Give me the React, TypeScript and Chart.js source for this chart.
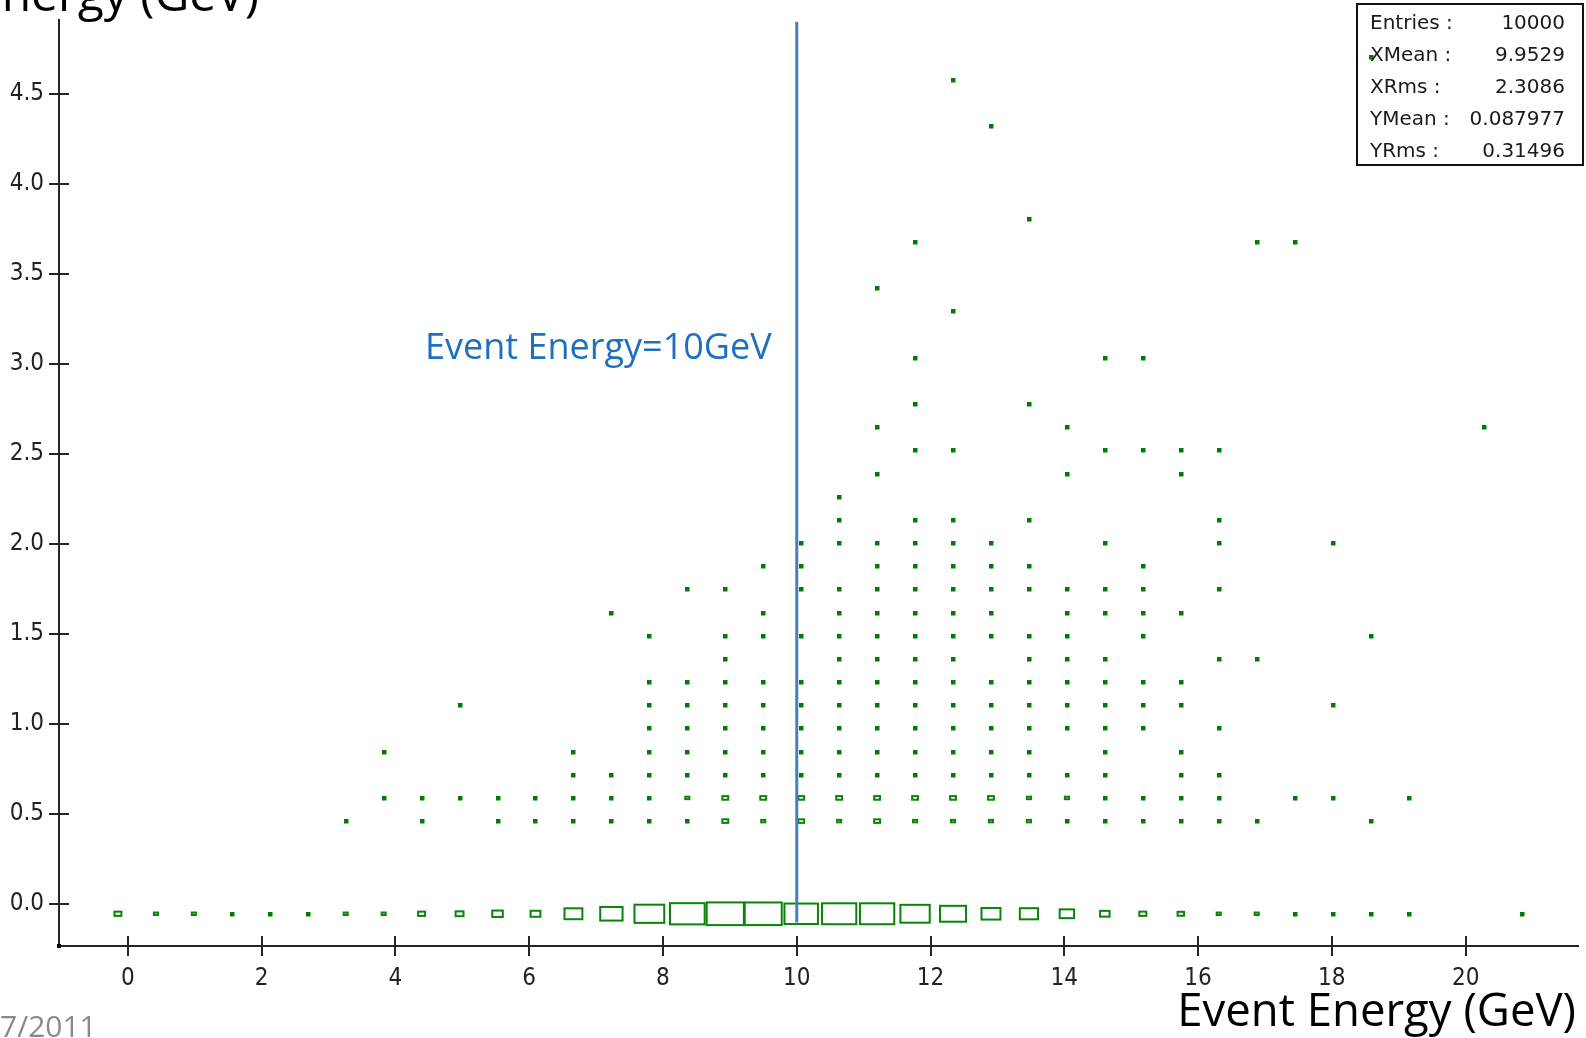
import React, { useEffect, useRef } from "react";
import { Chart, registerables } from "chart.js";

Chart.register(...registerables);

const CANVAS_W = 1586;
const CANVAS_H = 1038;

// Axis ranges and tick steps
const xRange = [-1.03, 21.68];
const yRange = [-0.236, 4.91];
const xTickStep = 2;
const yTickStep = 0.5;

// Histogram binning (40 x 40 bins)
const xBinning = { low: -1, width: 0.5675 };
const yBinning = { low: -0.25, width: 0.12875 };

// Bottom row (Y ~ 0) contents, one entry per X bin
const zeroRowIndex = 1;
const zeroRowCounts = [
  0, 35, 12, 12, 4, 4, 4, 12, 12, 35,
  45, 80, 70, 230, 360, 640, 870, 1000, 990, 810,
  850, 850, 620, 490, 260, 240, 150, 65, 35, 30,
  12, 12, 4, 4, 4, 4, 0, 0, 4, 0,
];

// Other occupied cells: [xBin, yBin, count]
const upperCells: [number, number, number][] = [
  // yBin 5
  [7, 5, 1], [9, 5, 2], [11, 5, 2], [12, 5, 2], [13, 5, 2], [14, 5, 3], [15, 5, 3], [16, 5, 3],
  [17, 5, 25], [18, 5, 12], [19, 5, 25], [20, 5, 12], [21, 5, 25], [22, 5, 12], [23, 5, 12],
  [24, 5, 12], [25, 5, 12], [26, 5, 3], [27, 5, 3], [28, 5, 3], [29, 5, 2], [30, 5, 2], [31, 5, 1], [34, 5, 1],
  // yBin 6
  [8, 6, 1], [9, 6, 2], [10, 6, 2], [11, 6, 2], [12, 6, 2], [13, 6, 3], [14, 6, 3], [15, 6, 3],
  [16, 6, 12], [17, 6, 25], [18, 6, 25], [19, 6, 25], [20, 6, 25], [21, 6, 25], [22, 6, 25],
  [23, 6, 25], [24, 6, 25], [25, 6, 12], [26, 6, 12], [27, 6, 3], [28, 6, 3], [29, 6, 3],
  [30, 6, 2], [32, 6, 1], [33, 6, 1], [35, 6, 1],
  // yBin 7
  [13, 7, 2], [14, 7, 2], [15, 7, 3], [16, 7, 3], [17, 7, 3], [18, 7, 3], [19, 7, 3], [20, 7, 3],
  [21, 7, 3], [22, 7, 3], [23, 7, 3], [24, 7, 3], [25, 7, 3], [26, 7, 2], [27, 7, 2], [29, 7, 1], [30, 7, 1],
  // yBin 8
  [8, 8, 1], [13, 8, 1], [15, 8, 2], [16, 8, 2], [17, 8, 2], [18, 8, 3], [19, 8, 3], [20, 8, 3],
  [21, 8, 3], [22, 8, 3], [23, 8, 3], [24, 8, 2], [25, 8, 2], [27, 8, 1], [29, 8, 1],
  // yBin 9
  [15, 9, 2], [16, 9, 2], [17, 9, 2], [18, 9, 2], [19, 9, 3], [20, 9, 3], [21, 9, 3], [22, 9, 3],
  [23, 9, 3], [24, 9, 2], [25, 9, 2], [26, 9, 2], [27, 9, 2], [28, 9, 1], [30, 9, 1],
  // yBin 10
  [10, 10, 1], [15, 10, 2], [16, 10, 2], [17, 10, 2], [18, 10, 2], [19, 10, 2], [20, 10, 2],
  [21, 10, 2], [22, 10, 2], [23, 10, 2], [24, 10, 2], [25, 10, 2], [26, 10, 2], [27, 10, 2],
  [28, 10, 1], [29, 10, 1], [33, 10, 1],
  // yBin 11
  [15, 11, 1], [16, 11, 2], [17, 11, 2], [18, 11, 2], [19, 11, 2], [20, 11, 2], [21, 11, 2],
  [22, 11, 2], [23, 11, 2], [24, 11, 2], [25, 11, 2], [26, 11, 2], [27, 11, 1], [28, 11, 1], [29, 11, 1],
  // yBin 12
  [17, 12, 1], [20, 12, 2], [21, 12, 2], [22, 12, 2], [23, 12, 2], [25, 12, 1], [26, 12, 1],
  [27, 12, 1], [30, 12, 1], [31, 12, 1],
  // yBin 13
  [15, 13, 1], [17, 13, 1], [18, 13, 2], [19, 13, 2], [20, 13, 2], [21, 13, 2], [22, 13, 2],
  [23, 13, 2], [24, 13, 2], [25, 13, 1], [26, 13, 1], [28, 13, 1], [34, 13, 1],
  // yBin 14
  [14, 14, 1], [18, 14, 1], [20, 14, 2], [21, 14, 2], [22, 14, 2], [23, 14, 2], [24, 14, 1],
  [26, 14, 1], [27, 14, 1], [28, 14, 1], [29, 14, 1],
  // yBin 15
  [16, 15, 1], [17, 15, 1], [19, 15, 2], [20, 15, 2], [21, 15, 2], [22, 15, 2], [23, 15, 2],
  [24, 15, 1], [25, 15, 1], [26, 15, 1], [27, 15, 1], [28, 15, 1], [30, 15, 1],
  // yBin 16
  [18, 16, 1], [19, 16, 1], [21, 16, 1], [22, 16, 1], [23, 16, 1], [24, 16, 1], [25, 16, 1], [28, 16, 1],
  // yBin 17
  [19, 17, 1], [20, 17, 1], [21, 17, 1], [22, 17, 1], [23, 17, 1], [24, 17, 1], [27, 17, 1],
  [30, 17, 1], [33, 17, 1],
  // yBin 18
  [20, 18, 1], [22, 18, 1], [23, 18, 1], [25, 18, 1], [30, 18, 1],
  // yBin 19 - 38
  [20, 19, 1],
  [21, 20, 1], [26, 20, 1], [29, 20, 1],
  [22, 21, 1], [23, 21, 1], [27, 21, 1], [28, 21, 1], [29, 21, 1], [30, 21, 1],
  [21, 22, 1], [26, 22, 1], [37, 22, 1],
  [22, 23, 1], [25, 23, 1],
  [22, 25, 1], [27, 25, 1], [28, 25, 1],
  [23, 27, 1],
  [21, 28, 1],
  [22, 30, 1], [31, 30, 1], [32, 30, 1],
  [25, 31, 1],
  [24, 35, 1],
  [23, 37, 1],
  [34, 38, 1],
];

// Stats box
const statLabels = ["Entries :", "XMean :", "XRms :", "YMean :", "YRms :"];
const statValues = ["10000", "9.9529", "2.3086", "0.087977", "0.31496"];

// Annotation
const markerEnergy = 10;
const markerLineY = [-0.105, 4.9];
const markerText = "Event Energy=10GeV";
const xTitle = "Event Energy (GeV)";
const yTitle = "Energy (GeV)";
const footerText = "7/2011";

const BOX_COLOR = "rgb(8,132,8)";
const AXIS_COLOR = "#262626";
const TICK_FONT = "'DejaVu Sans Condensed', 'Liberation Sans Narrow', sans-serif";
const STAT_FONT = "'DejaVu Sans', sans-serif";
const TITLE_FONT = "'Open Sans', 'Noto Sans', sans-serif";

type Cell = { x: number; y: number; c: number };

function buildCells(): Cell[] {
  const cells: Cell[] = [];
  const cx = (i: number) => xBinning.low + (i + 0.5) * xBinning.width;
  const cy = (j: number) => yBinning.low + (j + 0.5) * yBinning.width;
  zeroRowCounts.forEach((c, i) => {
    if (c > 0) cells.push({ x: cx(i), y: cy(zeroRowIndex), c });
  });
  upperCells.forEach(([i, j, c]) => cells.push({ x: cx(i), y: cy(j), c }));
  return cells;
}

const boxPlugin = {
  id: "histBoxes",
  afterDatasetsDraw(chart: any) {
    const { ctx, scales } = chart;
    const xs = scales.x;
    const ys = scales.y;
    const meta = chart.getDatasetMeta(0);
    const data: Cell[] = chart.data.datasets[0].data;
    const maxC = Math.max(...data.map((d) => d.c));
    const binW = Math.abs(xs.getPixelForValue(xBinning.width) - xs.getPixelForValue(0));
    const binH = Math.abs(ys.getPixelForValue(0) - ys.getPixelForValue(yBinning.width));
    const lw = 2;
    ctx.save();
    ctx.strokeStyle = BOX_COLOR;
    ctx.fillStyle = "rgb(0,125,0)";
    ctx.lineWidth = lw;
    meta.data.forEach((el: any, k: number) => {
      const f = Math.sqrt(data[k].c / maxC);
      const w = f * binW * 0.98 + lw;
      const h = f * binH * 0.98 + lw;
      if (w < 5 && h < 5) {
        ctx.fillRect(Math.round(el.x) - 2, Math.round(el.y) - 2, 4.5, 4.5);
      } else {
        ctx.strokeRect(el.x - w / 2 + lw / 2, el.y - h / 2 + lw / 2, w - lw, h - lw);
      }
    });
    // marker line
    const px = xs.getPixelForValue(markerEnergy);
    ctx.strokeStyle = "#4a7ebb";
    ctx.lineWidth = 3;
    ctx.beginPath();
    ctx.moveTo(px, ys.getPixelForValue(markerLineY[1]));
    ctx.lineTo(px, ys.getPixelForValue(markerLineY[0]));
    ctx.stroke();
    ctx.restore();
  },
  afterDraw(chart: any) {
    const { ctx, chartArea, scales } = chart;
    const xs = scales.x;
    const ys = scales.y;
    ctx.save();
    // inner halves of tick marks
    ctx.strokeStyle = AXIS_COLOR;
    ctx.lineWidth = 2;
    xs.ticks.forEach((t: any) => {
      const p = Math.round(xs.getPixelForValue(t.value));
      ctx.beginPath();
      ctx.moveTo(p, chartArea.bottom);
      ctx.lineTo(p, chartArea.bottom - 10);
      ctx.stroke();
    });
    ys.ticks.forEach((t: any) => {
      const p = Math.round(ys.getPixelForValue(t.value));
      ctx.beginPath();
      ctx.moveTo(chartArea.left, p);
      ctx.lineTo(chartArea.left + 10, p);
      ctx.stroke();
    });
    ctx.fillStyle = "#000";
    ctx.fillRect(chartArea.left - 2, chartArea.bottom - 2, 4, 4);

    // annotation text
    ctx.fillStyle = "#1d6fbf";
    ctx.font = `36px ${TITLE_FONT}`;
    ctx.textAlign = "left";
    ctx.textBaseline = "alphabetic";
    ctx.fillText(markerText, 425, 359);

    // titles
    ctx.fillStyle = "#000";
    ctx.font = `45.5px ${TITLE_FONT}`;
    ctx.textAlign = "right";
    ctx.fillText(xTitle, 1576, 1026);
    ctx.font = `48px ${TITLE_FONT}`;
    ctx.fillText(yTitle, 259, 11);

    // footer
    ctx.fillStyle = "#8a8a8a";
    ctx.font = `30px ${TITLE_FONT}`;
    ctx.textAlign = "left";
    ctx.fillText(footerText, 0, 1037);

    // stats box
    ctx.strokeStyle = "#111";
    ctx.lineWidth = 2;
    ctx.strokeRect(1357, 4, 226, 161);
    ctx.fillStyle = "#1a1a1a";
    ctx.font = `20px ${STAT_FONT}`;
    ctx.textBaseline = "middle";
    statLabels.forEach((lab, k) => {
      const yy = 24 + k * 31.9;
      ctx.textAlign = "left";
      ctx.fillText(lab, 1370, yy);
      ctx.textAlign = "right";
      ctx.fillText(statValues[k], 1565, yy);
    });
    ctx.restore();
  },
};

export default function App() {
  const ref = useRef<HTMLCanvasElement | null>(null);
  useEffect(() => {
    if (!ref.current) return;
    const chart = new Chart(ref.current, {
      type: "scatter",
      data: {
        datasets: [
          {
            data: buildCells() as any,
            pointRadius: 0,
            pointHoverRadius: 0,
          },
        ],
      },
      options: {
        animation: false,
        responsive: false,
        devicePixelRatio: 1,
        events: [],
        layout: { padding: { top: 20, right: 8, left: 0, bottom: 0 } },
        plugins: { legend: { display: false }, tooltip: { enabled: false } },
        scales: {
          x: {
            type: "linear",
            min: xRange[0],
            max: xRange[1],
            afterFit: (s: any) => {
              s.height = 92;
            },
            border: { display: true, color: AXIS_COLOR, width: 2 },
            grid: { drawOnChartArea: false, drawTicks: true, tickLength: 10, color: AXIS_COLOR, lineWidth: 2 },
            ticks: {
              stepSize: xTickStep,
              includeBounds: false,
              color: "#222",
              padding: 8,
              font: { family: TICK_FONT, size: 24 },
              callback: (v: any) => String(Math.round(Number(v))),
            },
          },
          y: {
            type: "linear",
            min: yRange[0],
            max: yRange[1],
            afterFit: (s: any) => {
              s.width = 59;
            },
            border: { display: true, color: AXIS_COLOR, width: 2 },
            grid: { drawOnChartArea: false, drawTicks: true, tickLength: 10, color: AXIS_COLOR, lineWidth: 2 },
            ticks: {
              stepSize: yTickStep,
              includeBounds: false,
              color: "#222",
              padding: 5,
              font: { family: TICK_FONT, size: 24 },
              callback: (v: any) => Number(v).toFixed(1),
            },
          },
        },
      },
      plugins: [boxPlugin],
    });
    return () => chart.destroy();
  }, []);
  return (
    <div style={{ position: "fixed", left: 0, top: 0, width: CANVAS_W, height: CANVAS_H, background: "#fff" }}>
      <canvas ref={ref} width={CANVAS_W} height={CANVAS_H} style={{ width: CANVAS_W, height: CANVAS_H, display: "block" }} />
    </div>
  );
}
